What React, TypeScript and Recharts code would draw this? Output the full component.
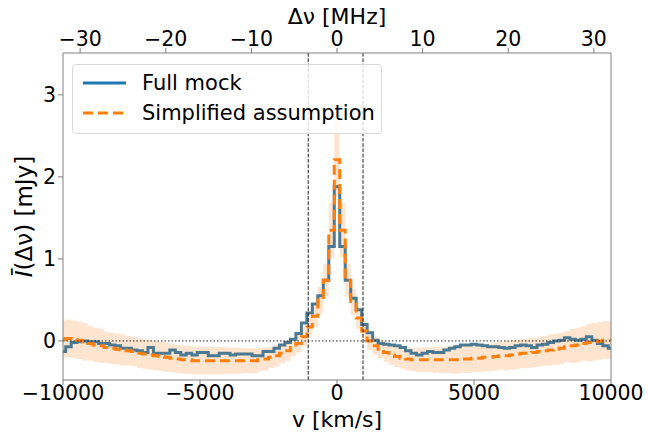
import React from "react";
import {
  ComposedChart,
  Line,
  Area,
  XAxis,
  YAxis,
  ReferenceLine,
} from "recharts";

// velocity bin centres, 200 km/s channels
const binCenters = Array.from({ length: 101 }, (_, i) => -10000 + 200 * i);

// mean stacked flux, full mock (mJy)
const fullMock = [
  -0.13, -0.07, -0.02, -0.01, 0.0, -0.01, -0.01, -0.03, -0.03, -0.05,
  -0.06, -0.09, -0.09, -0.11, -0.12, -0.14, -0.08, -0.15, -0.15, -0.15,
  -0.11, -0.14, -0.17, -0.15, -0.17, -0.14, -0.14, -0.18, -0.18, -0.15,
  -0.15, -0.17, -0.16, -0.16, -0.16, -0.18, -0.18, -0.13, -0.13, -0.09,
  -0.05, -0.02, 0.02, 0.09, 0.22, 0.34, 0.45, 0.55, 0.74, 1.15,
  1.88,
  1.15, 0.74, 0.52, 0.38, 0.2, 0.1, 0.01, -0.03, -0.04, -0.05,
  -0.06, -0.08, -0.12, -0.15, -0.17, -0.15, -0.13, -0.14, -0.14, -0.11,
  -0.09, -0.07, -0.05, -0.05, -0.04, -0.05, -0.06, -0.07, -0.07, -0.08,
  -0.09, -0.08, -0.06, -0.05, -0.06, -0.08, -0.05, -0.04, -0.02, 0.0,
  0.01, 0.04, 0.02, 0.01, 0.02, 0.05, 0.01, -0.03, -0.06, -0.09,
];

// simplified assumption
const simplified = [
  0.02, 0.03, 0.02, 0.01, -0.01, -0.03, -0.05, -0.06, -0.08, -0.09,
  -0.1, -0.11, -0.12, -0.13, -0.15, -0.16, -0.17, -0.18, -0.19, -0.2,
  -0.21, -0.22, -0.23, -0.23, -0.24, -0.24, -0.24, -0.24, -0.24, -0.24,
  -0.24, -0.24, -0.24, -0.24, -0.24, -0.24, -0.23, -0.22, -0.2, -0.18,
  -0.15, -0.12, -0.08, -0.03, 0.05, 0.17, 0.3, 0.5, 0.74, 1.35,
  2.21,
  1.35, 0.74, 0.48, 0.28, 0.12, 0.0, -0.06, -0.1, -0.14, -0.17,
  -0.19, -0.21, -0.22, -0.23, -0.23, -0.23, -0.23, -0.23, -0.23, -0.23,
  -0.23, -0.23, -0.22, -0.22, -0.21, -0.21, -0.2, -0.2, -0.19, -0.18,
  -0.18, -0.17, -0.16, -0.15, -0.15, -0.14, -0.13, -0.12, -0.11, -0.1,
  -0.09, -0.07, -0.06, -0.05, -0.03, -0.02, -0.01, 0.0, 0.01, 0.01,
];

// 1-sigma spread around the simplified curve
const simplifiedErr = [
  0.23, 0.23, 0.23, 0.23, 0.23, 0.21, 0.21, 0.21, 0.19, 0.19,
  0.19, 0.19, 0.18, 0.18, 0.18, 0.18, 0.18, 0.18, 0.18, 0.18,
  0.17, 0.17, 0.17, 0.17, 0.17, 0.17, 0.17, 0.17, 0.17, 0.17,
  0.16, 0.16, 0.16, 0.15, 0.15, 0.15, 0.14, 0.14, 0.13, 0.13,
  0.12, 0.12, 0.11, 0.11, 0.11, 0.12, 0.13, 0.16, 0.2, 0.33,
  0.45,
  0.33, 0.2, 0.16, 0.13, 0.12, 0.11, 0.11, 0.11, 0.12, 0.12,
  0.13, 0.13, 0.14, 0.14, 0.15, 0.15, 0.15, 0.16, 0.16, 0.16,
  0.17, 0.17, 0.17, 0.17, 0.17, 0.17, 0.17, 0.17, 0.17, 0.17,
  0.18, 0.18, 0.18, 0.18, 0.18, 0.18, 0.18, 0.18, 0.19, 0.19,
  0.19, 0.19, 0.21, 0.21, 0.21, 0.23, 0.23, 0.23, 0.23, 0.23,
];

const velTicks = [-10000, -5000, 0, 5000, 10000];
const yTicks = [0, 1, 2, 3];
const freqTicksMHz = [-30, -20, -10, 0, 10, 20, 30];
const mhzPerKms = 32 / 10000;
const windowEdges = [-1050, 950];

const data = binCenters.map((v, i) => ({
  v,
  full: fullMock[i],
  simp: simplified[i],
  band: [simplified[i] - simplifiedErr[i], simplified[i] + simplifiedErr[i]],
}));

const FONT = "DejaVu Sans";
const AXIS = "#808080";
const BLUE = "#1f77b4";
// blue as seen through the translucent orange band
const BLUE_UNDER_BAND = "#4b7993";
const ORANGE = "#ff7f0e";
const tickStyle = { fontSize: 20.5, fill: "#000", fontFamily: FONT };
const fmt = (n: number) => (n < 0 ? `\u2212${-n}` : `${n}`);

const YLabel = ({ viewBox }: any) => {
  const x = viewBox.x + 24;
  const y = viewBox.y + viewBox.height / 2;
  return (
    <text
      x={x}
      y={y}
      transform={`rotate(-90, ${x}, ${y})`}
      textAnchor="middle"
      dominantBaseline="central"
      fontSize={23}
      fontFamily={FONT}
      fill="#000"
    >
      <tspan fontStyle="italic">Ī</tspan>(Δν) [mJy]
    </text>
  );
};

const TopLabel = ({ viewBox }: any) => (
  <text
    x={viewBox.x + viewBox.width / 2}
    y={16}
    textAnchor="middle"
    dominantBaseline="central"
    fontSize={22}
    fontFamily={FONT}
    fill="#000"
  >
    Δν [MHz]
  </text>
);

const BottomLabel = ({ viewBox }: any) => (
  <text
    x={viewBox.x + viewBox.width / 2}
    y={419}
    textAnchor="middle"
    dominantBaseline="central"
    fontSize={22}
    fontFamily={FONT}
    fill="#000"
  >
    v [km/s]
  </text>
);

export default function App() {
  return (
    <div
      style={{
        position: "absolute",
        left: 0,
        top: 0,
        width: 648,
        height: 433,
        background: "#fff",
      }}
    >
      <ComposedChart
        width={648}
        height={433}
        data={data}
        margin={{ top: 0, right: 37, bottom: 0, left: 0 }}
      >
        <XAxis
          dataKey="v"
          type="number"
          domain={[-10000, 10000]}
          ticks={velTicks}
          tickFormatter={fmt}
          tick={tickStyle}
          tickSize={5}
          tickMargin={0}
          height={53}
          stroke={AXIS}
          allowDataOverflow
          label={<BottomLabel />}
        />
        <XAxis
          xAxisId="top"
          orientation="top"
          dataKey="v"
          type="number"
          domain={[-10000, 10000]}
          ticks={freqTicksMHz.map((m) => m / mhzPerKms)}
          tickFormatter={(v: number) => fmt(Math.round(v * mhzPerKms))}
          tick={tickStyle}
          tickSize={5}
          height={53}
          stroke={AXIS}
          allowDataOverflow
          label={<TopLabel />}
        />
        <YAxis
          type="number"
          domain={[-0.476, 3.51]}
          ticks={yTicks}
          tick={tickStyle}
          tickSize={5}
          width={63}
          stroke={AXIS}
          allowDataOverflow
          label={<YLabel />}
        />
        <Line
          type="step"
          dataKey="full"
          stroke={BLUE_UNDER_BAND}
          strokeWidth={3}
          dot={false}
          isAnimationActive={false}
        />
        <Line
          type="step"
          dataKey="simp"
          stroke={ORANGE}
          strokeWidth={3}
          strokeDasharray="10 5"
          dot={false}
          isAnimationActive={false}
        />
        <Area
          type="step"
          dataKey="band"
          fill={ORANGE}
          fillOpacity={0.2}
          stroke="none"
          isAnimationActive={false}
        />
        <ReferenceLine y={0} stroke="#222" strokeDasharray="1.5 2" />
        {windowEdges.map((x) => (
          <ReferenceLine
            key={x}
            xAxisId="top"
            x={x}
            stroke="#222"
            strokeDasharray="3.7 1.6"
          />
        ))}
        <ReferenceLine x={10000} stroke={AXIS} />
      </ComposedChart>
      <div
        style={{
          position: "absolute",
          left: 72,
          top: 64,
          width: 308,
          height: 68,
          border: "1px solid #d9d9d9",
          borderRadius: 4,
          background: "rgba(255,255,255,0.8)",
          fontFamily: FONT,
          fontSize: 21,
          color: "#000",
        }}
      >
        <svg
          width={60}
          height={68}
          style={{ position: "absolute", left: 0, top: 0 }}
        >
          <line x1={10} x2={53} y1={18} y2={18} stroke={BLUE} strokeWidth={3} />
          <line
            x1={10}
            x2={53}
            y1={48}
            y2={48}
            stroke={ORANGE}
            strokeWidth={3}
            strokeDasharray="10 5"
          />
        </svg>
        <div style={{ position: "absolute", left: 69, top: 5, lineHeight: "26px" }}>
          Full mock
        </div>
        <div style={{ position: "absolute", left: 69, top: 35, lineHeight: "26px" }}>
          Simplified assumption
        </div>
      </div>
    </div>
  );
}
